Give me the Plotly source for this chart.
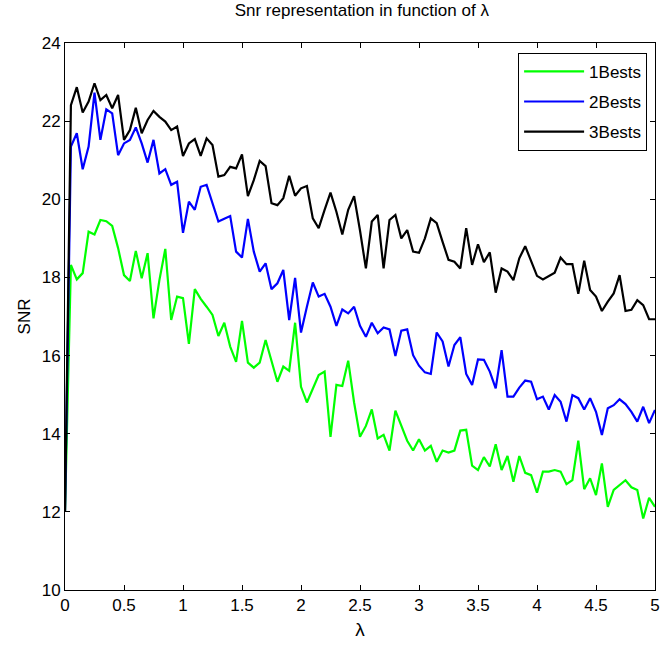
import plotly.graph_objects as go

lam = [round(i * 0.05, 2) for i in range(101)]

best1 = [12.0, 18.32, 17.95, 18.11, 19.17, 19.10, 19.47, 19.44, 19.32, 18.75,
         18.06, 17.91, 18.68, 17.98, 18.62, 16.95, 17.93, 18.73, 16.91, 17.51,
         17.47, 16.30, 17.70, 17.45, 17.25, 17.04, 16.50, 16.84, 16.23, 15.84,
         16.89, 15.82, 15.69, 15.82, 16.40, 15.84, 15.33, 15.72, 15.61, 16.84,
         15.20, 14.80, 15.16, 15.50, 15.59, 13.92, 15.25, 15.22, 15.87, 14.80,
         13.92, 14.20, 14.62, 13.88, 13.97, 13.57, 14.59, 14.18, 13.82, 13.57,
         13.86, 13.57, 13.69, 13.28, 13.57, 13.52, 13.57, 14.08, 14.10, 13.18,
         13.07, 13.40, 13.16, 13.73, 13.07, 13.43, 12.77, 13.43, 13.00, 12.94,
         12.49, 13.03, 13.03, 13.07, 13.03, 12.71, 12.81, 13.82, 12.58, 12.86,
         12.43, 13.24, 12.13, 12.56, 12.69, 12.81, 12.63, 12.56, 11.83, 12.36,
         12.13]

best2 = [12.0, 21.35, 21.69, 20.77, 21.35, 22.73, 21.52, 22.30, 22.20, 21.13,
         21.43, 21.52, 21.84, 21.43, 20.94, 21.52, 20.66, 20.77, 20.37, 20.45,
         19.14, 19.94, 19.73, 20.32, 20.37, 19.92, 19.43, 19.50, 19.57, 18.66,
         18.51, 19.50, 18.66, 18.15, 18.36, 17.70, 17.85, 18.19, 16.91, 17.99,
         16.59, 17.25, 17.87, 17.51, 17.58, 17.25, 16.76, 17.18, 17.08, 17.25,
         16.76, 16.48, 16.84, 16.57, 16.72, 16.67, 15.99, 16.64, 16.67, 16.01,
         15.74, 15.57, 15.53, 16.59, 16.36, 15.72, 16.27, 16.47, 15.53, 15.25,
         15.90, 15.89, 15.59, 15.16, 16.14, 14.95, 14.95, 15.18, 15.36, 15.33,
         14.88, 14.95, 14.62, 14.99, 14.82, 14.31, 14.99, 14.91, 14.62, 14.91,
         14.56, 13.97, 14.65, 14.73, 14.88, 14.76, 14.56, 14.31, 14.69, 14.27,
         14.61]

best3 = [12.0, 22.41, 22.87, 22.22, 22.50, 22.97, 22.54, 22.67, 22.33, 22.67,
         21.52, 21.77, 22.34, 21.69, 22.03, 22.26, 22.11, 21.99, 21.77, 21.86,
         21.11, 21.43, 21.54, 21.11, 21.56, 21.39, 20.58, 20.62, 20.83, 20.79,
         21.15, 20.08, 20.49, 20.98, 20.85, 19.90, 19.85, 20.03, 20.60, 20.09,
         20.28, 20.34, 19.51, 19.26, 19.73, 20.17, 19.68, 19.10, 19.73, 20.08,
         19.20, 18.23, 19.43, 19.60, 18.23, 19.47, 19.60, 19.00, 19.21, 18.66,
         18.63, 19.00, 19.51, 19.39, 18.91, 18.45, 18.40, 18.23, 19.26, 18.32,
         18.85, 18.39, 18.64, 17.61, 18.23, 18.15, 17.93, 18.49, 18.80, 18.40,
         18.04, 17.95, 18.04, 18.12, 18.51, 18.34, 18.34, 17.58, 18.43, 17.68,
         17.51, 17.14, 17.38, 17.59, 18.06, 17.14, 17.17, 17.42, 17.29, 16.93,
         16.93]

names = ["1Bests", "2Bests", "3Bests"]
colors = ["#00ff00", "#0000ff", "#000000"]
series = [best1, best2, best3]

FONT = "Liberation Sans, Arial, sans-serif"

fig = go.Figure()
for name, col, ys in zip(names, colors, series):
    fig.add_trace(go.Scatter(x=lam, y=ys, mode="lines", name=name, legendgroup=name,
                             line=dict(color=col, width=2.2)))

axis_common = dict(showline=True, linecolor="black", linewidth=1, mirror="ticks",
                   ticks="inside", ticklen=5, tickcolor="black", showgrid=False,
                   zeroline=False, tickfont=dict(family=FONT, size=17, color="black"))

fig.update_layout(
    width=670, height=655,
    margin=dict(l=65, r=10, t=43, b=65),
    plot_bgcolor="white", paper_bgcolor="white",
    title=dict(text="Snr representation in function of λ", x=0.54, xanchor="center",
               y=0.993, yanchor="top",
               font=dict(family=FONT, size=17, color="black")),
    xaxis=dict(range=[0, 5], dtick=0.5, tick0=0,
               title=dict(text="λ", font=dict(family=FONT, size=19, color="black"), standoff=8),
               **axis_common),
    yaxis=dict(range=[10, 24], dtick=2, tick0=10,
               title=dict(text="SNR", font=dict(family=FONT, size=17, color="black"), standoff=6),
               **axis_common),
    legend=dict(x=0.9866, y=0.982, xanchor="right", yanchor="top",
                bordercolor="black", borderwidth=1, bgcolor="white",
                font=dict(family=FONT, size=17, color="black"),
                itemwidth=60, tracegroupgap=5),
    showlegend=True,
)

fig.write_html("out.html")
